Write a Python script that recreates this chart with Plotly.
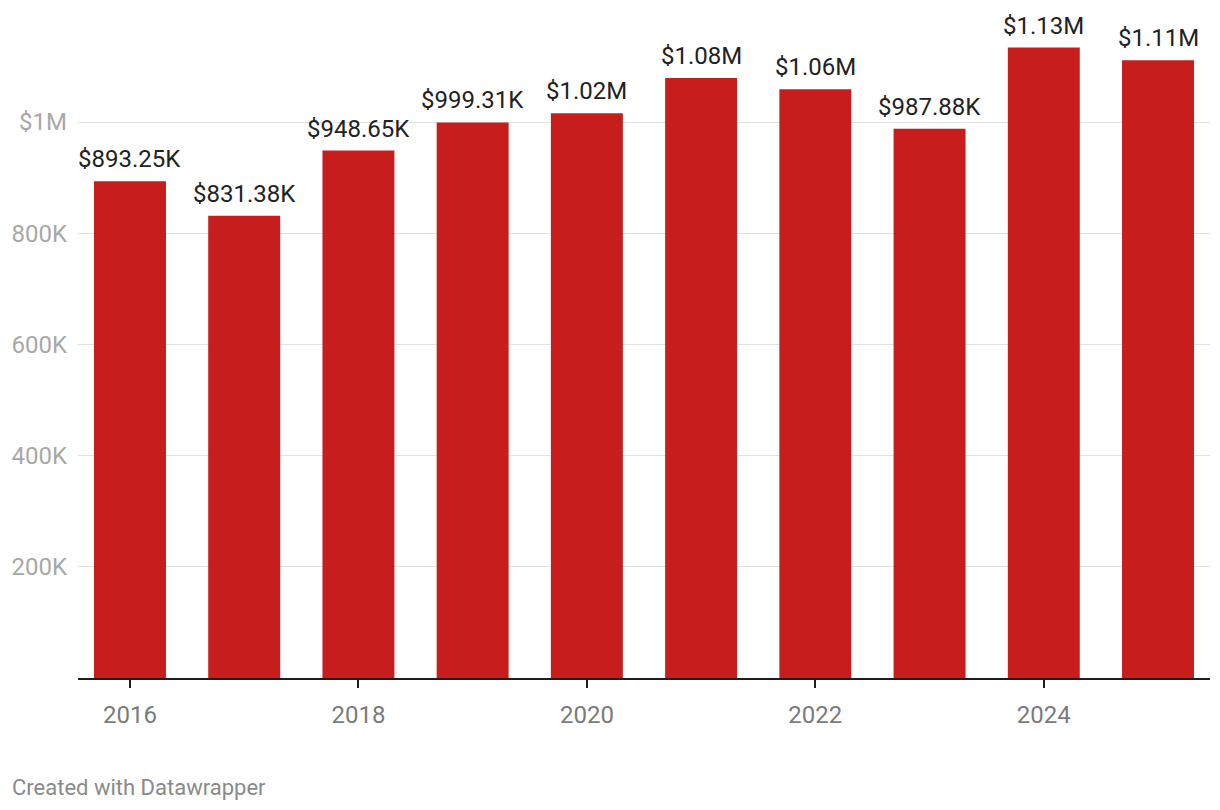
import plotly.graph_objects as go

years = [2016, 2017, 2018, 2019, 2020, 2021, 2022, 2023, 2024, 2025]
values = [893250, 831380, 948650, 999310, 1016000, 1079000, 1059000, 987880, 1134000, 1111000]
value_labels = ["$893.25K", "$831.38K", "$948.65K", "$999.31K", "$1.02M", "$1.08M",
                "$1.06M", "$987.88K", "$1.13M", "$1.11M"]
y_tickvals = [200000, 400000, 600000, 800000, 1000000]
y_ticktext = ["200K", "400K", "600K", "800K", "$1M"]
x_tickvals = [2016, 2018, 2020, 2022, 2024]

FONT = "Roboto"

fig = go.Figure()
fig.add_trace(go.Bar(
    x=years, y=values,
    marker=dict(color="#c71e1d", line=dict(width=0)),
    width=0.63,
))

annotations = [
    dict(x=yr, y=v, text=lab, xref="x", yref="y", showarrow=False,
         xanchor="center", yanchor="bottom", yshift=6,
         font=dict(family=FONT, size=24, color="#222222"))
    for yr, v, lab in zip(years, values, value_labels)
]
annotations.append(dict(
    text="Created with Datawrapper", xref="paper", yref="paper",
    x=0, y=0, xanchor="left", yanchor="middle", xshift=-68, yshift=-109,
    showarrow=False, font=dict(family=FONT, size=22, color="#8a8a8a"),
))

fig.update_layout(
    width=1212, height=802,
    margin=dict(l=70, r=10, t=12, b=132),
    paper_bgcolor="white", plot_bgcolor="white",
    showlegend=False,
    font=dict(family=FONT),
    xaxis=dict(
        range=[2015.545, 2025.455],
        tickvals=x_tickvals, ticktext=[str(v) for v in x_tickvals],
        ticks="outside", ticklen=8, tickwidth=2, tickcolor="#1d1d1d",
        showline=True, linecolor="#1d1d1d", linewidth=2,
        showgrid=False, zeroline=False, automargin=False,
        tickfont=dict(family=FONT, size=24, color="#7b7b7b"),
        ticklabelstandoff=6,
    ),
    yaxis=dict(
        range=[0, 1183500],
        tickvals=y_tickvals, ticktext=y_ticktext,
        showgrid=True, gridcolor="#e2e2e2", gridwidth=1,
        zeroline=False, showline=False, ticks="", automargin=False,
        tickfont=dict(family=FONT, size=24, color="#a8a8a8"),
        ticklabelstandoff=10,
    ),
    annotations=annotations,
)

fig.write_html("out.html")
